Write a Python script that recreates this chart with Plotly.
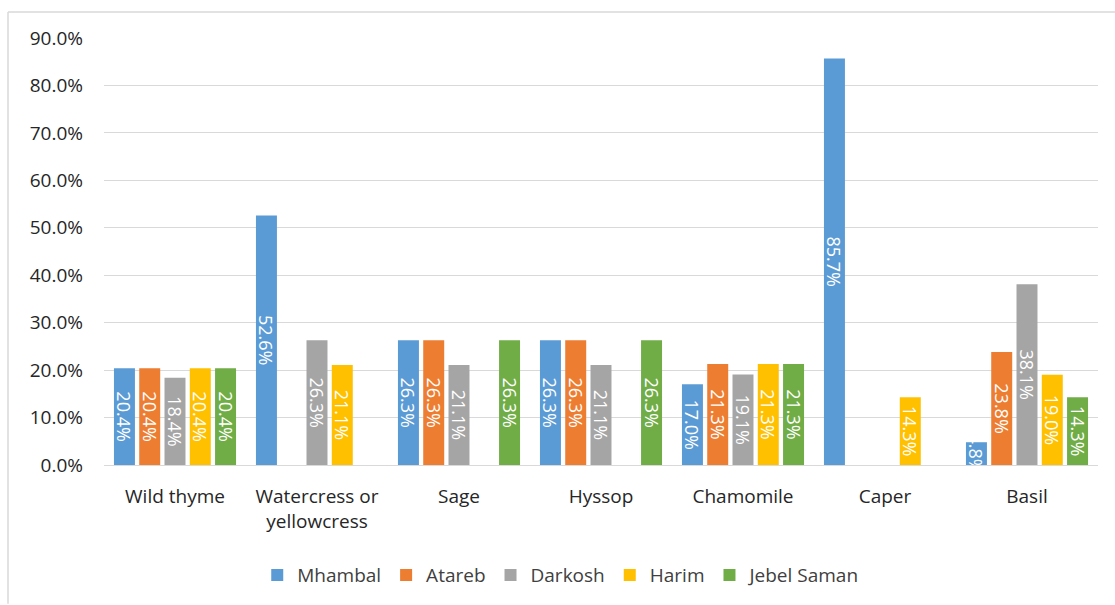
import plotly.graph_objects as go

# Share of each herb by collection area
herbs = ["Wild thyme", "Watercress or<br>yellowcress", "Sage", "Hyssop",
         "Chamomile", "Caper", "Basil"]
mhambal = [20.4, 52.6, 26.3, 26.3, 17.0, 85.7, 4.8]
atareb = [20.4, 0.0, 26.3, 26.3, 21.3, 0.0, 23.8]
darkosh = [18.4, 26.3, 21.1, 21.1, 19.1, 0.0, 38.1]
harim = [20.4, 21.1, 0.0, 0.0, 21.3, 14.3, 19.0]
jebel_saman = [20.4, 0.0, 26.3, 26.3, 21.3, 0.0, 14.3]

series = [
    ("Mhambal", mhambal, "#5B9BD5"),
    ("Atareb", atareb, "#ED7D31"),
    ("Darkosh", darkosh, "#A5A5A5"),
    ("Harim", harim, "#FFC000"),
    ("Jebel Saman", jebel_saman, "#70AD47"),
]

W, H = 1115, 605
L, R, T, B = 104, 17, 38, 139
FONT = "Open Sans"

fig = go.Figure()
for name, vals, color in series:
    fig.add_trace(go.Bar(
        name=name,
        x=herbs,
        y=[v / 100 for v in vals],
        marker=dict(color=color, line=dict(width=0)),
        text=[f"{v:.1f}%" for v in vals],
        textposition="inside",
        insidetextanchor="middle",
        textangle=90,
        constraintext="none",
        textfont=dict(family=FONT, size=18, color="white"),
    ))

fig.update_layout(
    width=W, height=H,
    margin=dict(l=L, r=R, t=T, b=B),
    paper_bgcolor="white",
    plot_bgcolor="white",
    barmode="group",
    bargap=0.11,
    bargroupgap=0.17,
    font=dict(family=FONT, color="#595959"),
    showlegend=True,
    legend=dict(
        orientation="h",
        x=0.46, xanchor="center",
        y=-0.255, yanchor="middle",
        font=dict(family=FONT, size=19, color="#404040"),
        itemwidth=30,
        traceorder="normal",
    ),
    xaxis=dict(
        showgrid=False,
        showline=True, linecolor="#D9D9D9", linewidth=1,
        ticks="",
        tickfont=dict(family=FONT, size=19, color="#262626"),
        ticklabelstandoff=14,
    ),
    yaxis=dict(
        range=[0, 0.9],
        dtick=0.1,
        tickformat=".1%",
        showgrid=True, gridcolor="#D9D9D9", gridwidth=1,
        zeroline=False,
        showline=False,
        ticks="",
        tickfont=dict(family=FONT, size=19, color="#262626"),
        ticklabelstandoff=20,
    ),
)

# Light chart-area frame along the top and left edges
pw, ph = W - L - R, H - T - B
x_left = (8 - L) / pw
x_right = (W - L) / pw
y_top = (H - B - 12) / ph
y_bottom = (H - B - H) / ph
fig.add_shape(type="line", xref="paper", yref="paper",
              x0=x_left, x1=x_right, y0=y_top, y1=y_top,
              line=dict(color="#D9D9D9", width=1.5))
fig.add_shape(type="line", xref="paper", yref="paper",
              x0=x_left, x1=x_left, y0=y_bottom, y1=y_top,
              line=dict(color="#D9D9D9", width=1.5))

fig.write_html("out.html")
